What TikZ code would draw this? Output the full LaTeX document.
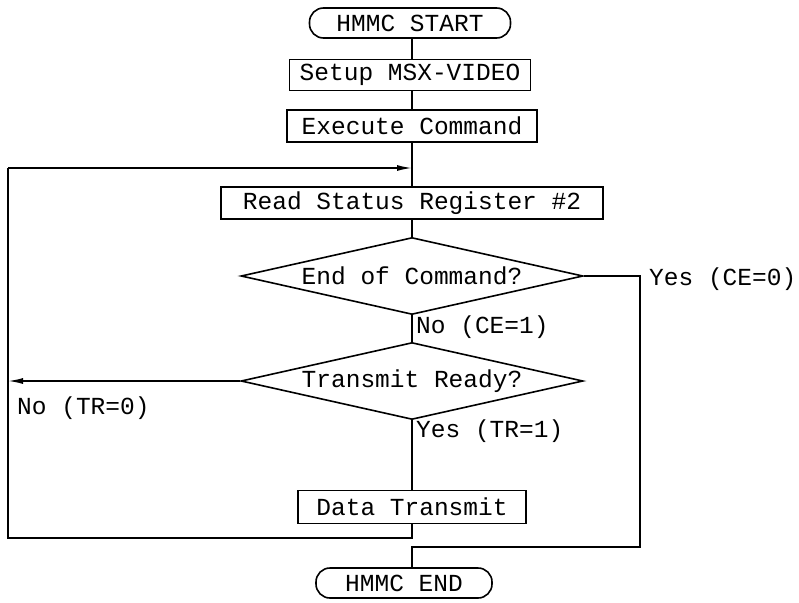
\documentclass[tikz,border=0pt]{standalone}
\usepackage{fontspec}
\setmonofont{Liberation Mono}
\usetikzlibrary{positioning,shapes.geometric,arrows.meta}
\tikzset{
  flowbox/.style={draw, line width=1.6pt, rectangle, inner sep=0pt, minimum height=31pt},
  termbox/.style={flowbox, rounded corners=14pt, minimum height=30pt},
  testbox/.style={draw, line width=1.6pt, diamond, inner sep=0pt, shape aspect=4.5,
    minimum width=342pt, minimum height=77pt},
  flowline/.style={line width=1.6pt},
  flowarrow/.style={flowline, -{Latex[length=15pt,width=6pt]}},
  flowlabel/.style={inner sep=0pt, anchor=west}
}
\begin{document}
\begin{tikzpicture}[x=1pt, y=1pt, font=\ttfamily\fontsize{24.5}{28}\selectfont]
  \useasboundingbox (0,0) rectangle (799,-602);

  \node[termbox, minimum width=201pt] (start) at (410,-23) {HMMC START};
  \node[flowbox, minimum width=241pt] (setup) at (410,-75) {Setup MSX-VIDEO};
  \node[flowbox, minimum width=250pt, minimum height=32pt] (exec) at (412,-126) {Execute Command};
  \node[flowbox, minimum width=382pt, minimum height=32pt] (read) at (412,-203) {Read Status Register \#2};
  \node[testbox] (endcmd) at (412,-276) {End of Command?};
  \node[testbox] (ready) at (412,-381) {Transmit Ready?};
  \node[flowbox, minimum width=228pt, minimum height=33pt] (data) at (412,-507) {Data Transmit};
  \node[termbox, minimum width=176pt] (stop) at (404,-583) {HMMC END};

  \coordinate (axis) at (412,0);
  \coordinate (loopin) at (412,-168);
  \coordinate (lefttop) at (8,-168);
  \coordinate (leftbot) at (8,-538);
  \coordinate (yesright) at (640,-276);
  \coordinate (joinbot) at (412,-547);

  % main column
  \draw[flowline] (start.south -| axis) -- (setup.north -| axis);
  \draw[flowline] (setup.south -| axis) -- (exec.north -| axis);
  \draw[flowline] (exec) -- (read);
  \draw[flowline] (read) -- (endcmd);
  \draw[flowline] (endcmd.south) -- (ready.north);
  \draw[flowline] (ready.south) -- (data.north);

  % loop back
  \draw[flowline] (data.south) |- (leftbot) -- (lefttop);
  \draw[flowarrow] (lefttop) -- (loopin);
  \draw[flowarrow] (ready.west) -- (ready.west -| lefttop);

  % exit
  \draw[flowline] (endcmd.east) -- (yesright) |- (joinbot) -- (stop.north -| axis);

  % labels
  \node[flowlabel] (yesce) at (649,-279) {Yes (CE=0)};
  \node[flowlabel] (noce) at (416,-327) {No (CE=1)};
  \node[flowlabel] (notr) at (17,-408) {No (TR=0)};
  \node[flowlabel] (yestr) at (416,-431) {Yes (TR=1)};
\end{tikzpicture}
\end{document}
